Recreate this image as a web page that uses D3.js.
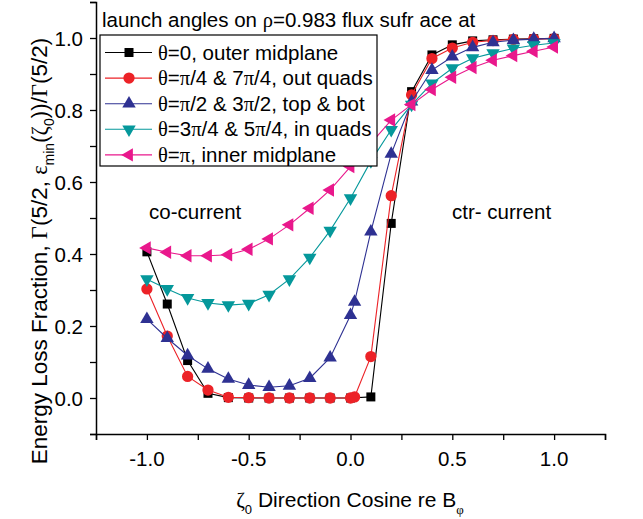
<!DOCTYPE html>
<html>
<head>
<meta charset="utf-8">
<script src="https://cdn.jsdelivr.net/npm/d3@7"></script>
<style>
  body { margin: 0; background: #fff; }
  text { font-family: "Liberation Sans", Arial, sans-serif; fill: #000; }
</style>
</head>
<body>
<div id="chart"></div>
<script>
// launch direction cosine values
var zeta = [-1.0, -0.9, -0.8, -0.7, -0.6, -0.5, -0.4, -0.3, -0.2, -0.1, 0.0,
            0.1, 0.2, 0.3, 0.4, 0.5, 0.6, 0.7, 0.8, 0.9, 1.0];
// red and blue runs have one extra launch just past zero
var zetaExtra = [-1.0, -0.9, -0.8, -0.7, -0.6, -0.5, -0.4, -0.3, -0.2, -0.1, 0.0, 0.02,
                 0.1, 0.2, 0.3, 0.4, 0.5, 0.6, 0.7, 0.8, 0.9, 1.0];

var outerMid  = [0.406, 0.261, 0.104, 0.013, 0.001, 0, 0, 0, 0, 0, 0,
                 0.003, 0.485, 0.851, 0.953, 0.981, 0.992, 0.995, 0.997, 0.998, 0.999];
var outQuads  = [0.303, 0.172, 0.060, 0.022, 0.002, 0.001, 0, 0, 0, 0, 0, 0.003,
                 0.115, 0.562, 0.842, 0.943, 0.972, 0.988, 0.993, 0.996, 0.997, 0.998];
var topBot    = [0.219, 0.166, 0.118, 0.081, 0.053, 0.036, 0.030, 0.034, 0.055, 0.112, 0.230, 0.267,
                 0.462, 0.678, 0.823, 0.911, 0.948, 0.974, 0.988, 0.994, 0.997, 0.999];
var inQuads   = [0.330, 0.303, 0.278, 0.264, 0.258, 0.262, 0.287, 0.330, 0.390, 0.465, 0.555,
                 0.658, 0.745, 0.815, 0.874, 0.916, 0.944, 0.958, 0.971, 0.980, 0.986];
var innerMid  = [0.417, 0.405, 0.395, 0.395, 0.398, 0.413, 0.442, 0.481, 0.527, 0.578, 0.643,
                 0.707, 0.772, 0.815, 0.857, 0.891, 0.918, 0.938, 0.951, 0.963, 0.975];

var seriesNames = ["θ=0, outer midplane", "θ=π/4 & 7π/4, out quads", "θ=π/2 & 3π/2, top & bot",
                   "θ=3π/4 & 5π/4, in quads", "θ=π, inner midplane"];
var seriesColors = ["#000000", "#ec2227", "#2e3192", "#05989b", "#e9188c"];

var xTicks = [-1.25, -1.0, -0.75, -0.5, -0.25, 0, 0.25, 0.5, 0.75, 1.0, 1.25];
var xLabels = [-1.0, -0.5, 0, 0.5, 1.0];
var yTicks = [-0.1, 0, 0.1, 0.2, 0.3, 0.4, 0.5, 0.6, 0.7, 0.8, 0.9, 1.0, 1.1];
var yLabels = [0, 0.2, 0.4, 0.6, 0.8, 1.0];

var width = 643, height = 519;
var margin = {left: 96, right: 38, top: 2, bottom: 85};
var fs = 20.5;

var series = [
  {x: zeta, y: outerMid, sym: d3.symbolSquare, size: 81, rot: 0},
  {x: zetaExtra, y: outQuads, sym: d3.symbolCircle, size: 100, rot: 0},
  {x: zetaExtra, y: topBot, sym: d3.symbolTriangle, size: 78, rot: 0},
  {x: zeta, y: inQuads, sym: d3.symbolTriangle, size: 78, rot: 180},
  {x: zeta, y: innerMid, sym: d3.symbolTriangle, size: 78, rot: -90}
];

var svg = d3.select("#chart")
  .append("svg")
  .attr("width", width)
  .attr("height", height);

var x = d3.scaleLinear().domain([-1.25, 1.25]).range([margin.left, width - margin.right]);
var y = d3.scaleLinear().domain([-0.1, 1.1]).range([height - margin.bottom, margin.top]);

// text with greek letters in a serif face, "sub" marks a subscript run
function rich(sel, parts, size) {
  var shift = 0;
  parts.forEach(function(p) {
    var isSub = p[1] == "sub";
    var pieces = p[0].split(/([\u0370-\u03ff])/);
    pieces.forEach(function(s) {
      if (s === "") return;
      var t = sel.append("tspan").text(s);
      if (/[\u0370-\u03ff]/.test(s)) t.style("font-family", "'Liberation Serif', 'DejaVu Serif', serif");
      var want = isSub ? size * 0.32 : 0;
      if (want != shift) { t.attr("dy", want - shift); shift = want; }
      if (isSub) t.style("font-size", (size * 0.62) + "px");
    });
  });
}

// axes
var xAxis = d3.axisBottom(x).tickValues(xTicks).tickSize(6).tickFormat("");
var yAxis = d3.axisLeft(y).tickValues(yTicks).tickSize(6).tickFormat("");

var gx = svg.append("g").attr("transform", "translate(0," + y(-0.1) + ")").call(xAxis);
var gy = svg.append("g").attr("transform", "translate(" + x(-1.25) + ",0)").call(yAxis);
[gx, gy].forEach(function(g) {
  g.select(".domain").attr("stroke", "#000").attr("stroke-width", 1.5);
  g.selectAll(".tick line").attr("stroke", "#000").attr("stroke-width", 1.3);
});

svg.append("g").selectAll("text")
  .data(xLabels).enter().append("text")
  .attr("x", function(d) { return x(d); })
  .attr("y", y(-0.1) + 32)
  .attr("text-anchor", "middle")
  .style("font-size", fs + "px")
  .text(function(d) { return d3.format(".1f")(d).replace("−", "-"); });

svg.append("g").selectAll("text")
  .data(yLabels).enter().append("text")
  .attr("x", x(-1.25) - 13)
  .attr("y", function(d) { return y(d) + 7.5; })
  .attr("text-anchor", "end")
  .style("font-size", fs + "px")
  .text(function(d) { return d3.format(".1f")(d); });

// axis titles
var xt = svg.append("text")
  .attr("x", 350).attr("y", 507)
  .attr("text-anchor", "middle")
  .style("font-size", "21px");
rich(xt, [["ζ"], ["0", "sub"], [" Direction Cosine re B"], ["φ", "sub"]], 21);

var yt = svg.append("text")
  .attr("transform", "translate(47,251) rotate(-90)")
  .attr("text-anchor", "middle")
  .style("font-size", "22.5px");
rich(yt, [["Energy Loss Fraction, Γ(5/2, ε"], ["min", "sub"], ["(ζ"], ["0", "sub"], ["))/Γ(5/2)"]], 22.5);

// curves
var line = d3.line()
  .x(function(d) { return x(d[0]); })
  .y(function(d) { return y(d[1]); });

series.forEach(function(s, k) {
  var pts = s.x.map(function(v, i) { return [v, s.y[i]]; });
  var g = svg.append("g");
  g.append("path")
    .attr("d", line(pts))
    .attr("fill", "none")
    .attr("stroke", seriesColors[k])
    .attr("stroke-width", 1.1);
  g.selectAll("path.pt")
    .data(pts).enter().append("path")
    .attr("class", "pt")
    .attr("d", d3.symbol().type(s.sym).size(s.size))
    .attr("transform", function(d) {
      return "translate(" + x(d[0]) + "," + y(d[1]) + ") rotate(" + s.rot + ")";
    })
    .attr("fill", seriesColors[k]);
});

// region notes
svg.append("text").attr("x", 149).attr("y", 219).style("font-size", fs + "px").text("co-current");
svg.append("text").attr("x", 452).attr("y", 219).style("font-size", fs + "px").text("ctr- current");

// legend
var lt = svg.append("text").attr("x", 102).attr("y", 27).style("font-size", fs + "px");
rich(lt, [["launch angles on ρ=0.983 flux sufr ace at"]], fs);

var legend = svg.append("g");
legend.append("rect")
  .attr("x", 100).attr("y", 35)
  .attr("width", 277).attr("height", 131)
  .attr("fill", "#fff")
  .attr("stroke", "#000")
  .attr("stroke-width", 1.2);

series.forEach(function(s, k) {
  var ry = 52.5 + k * 25.6;
  legend.append("line")
    .attr("x1", 105).attr("x2", 152)
    .attr("y1", ry).attr("y2", ry)
    .attr("stroke", seriesColors[k])
    .attr("stroke-width", 1.1);
  legend.append("path")
    .attr("d", d3.symbol().type(s.sym).size(s.size))
    .attr("transform", "translate(129," + ry + ") rotate(" + s.rot + ")")
    .attr("fill", seriesColors[k]);
  var t = legend.append("text")
    .attr("x", 158).attr("y", ry + 7)
    .style("font-size", fs + "px");
  rich(t, [[seriesNames[k]]], fs);
});
</script>
</body>
</html>
